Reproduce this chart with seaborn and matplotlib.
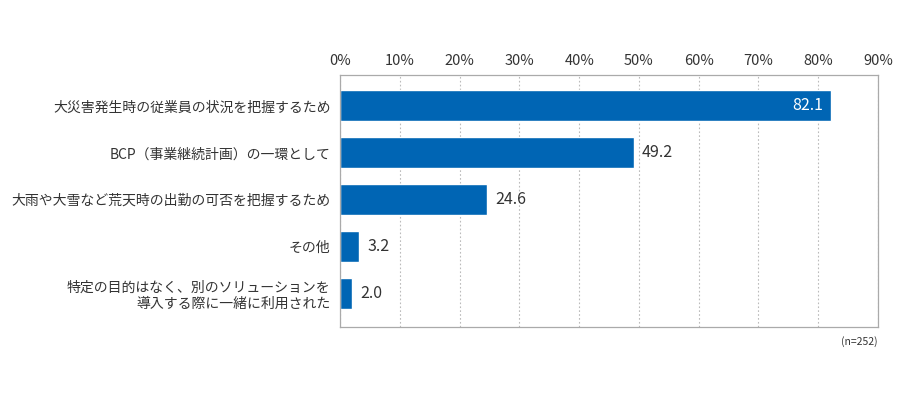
"""Horizontal bar chart: reasons for using the service (n=252)"""
import matplotlib
matplotlib.use('Agg')
import matplotlib.pyplot as plt
import seaborn as sns

categories = ['大災害発生時の従業員の状況を把握するため',
              'BCP（事業継続計画）の一環として',
              '大雨や大雪など荒天時の出勤の可否を把握するため',
              'その他',
              '特定の目的はなく、別のソリューションを\n導入する際に一緒に利用された']
values = [82.1, 49.2, 24.6, 3.2, 2.0]
x_ticks = list(range(0, 100, 10))
note = '(n=252)'

sns.set_style('white')
plt.rcParams['font.family'] = ['Noto Sans CJK JP', 'DejaVu Sans']

fig = plt.figure(figsize=(9, 4), dpi=100)
ax = fig.add_axes([0.378, 0.1825, 0.5975, 0.63])

sns.barplot(x=values, y=categories, orient='h', color='#0065B4', width=0.66,
            saturation=1, ax=ax)

ax.set_xlim(0, 90)
ax.set_ylim(4.72, -0.66)
ax.set_xticks(x_ticks)
ax.set_xticklabels([f'{t}%' for t in x_ticks])
ax.xaxis.tick_top()
ax.tick_params(axis='x', length=0, pad=5, labelsize=10.5, colors='#333333')
ax.tick_params(axis='y', length=0, pad=7, labelsize=10, colors='#333333')
ax.set_xlabel('')
ax.set_ylabel('')
ax.grid(axis='x', linestyle=(0, (1.5, 2)), color='#bbbbbb', linewidth=0.8)
ax.set_axisbelow(True)
for spine in ax.spines.values():
    spine.set_color('#aaaaaa')
    spine.set_linewidth(0.9)

#Value labels: inside the long bar, outside the rest
for bar, v in zip(ax.patches, values):
    y = bar.get_y() + bar.get_height() / 2
    if v > 70:
        ax.text(v - 1.3, y, f'{v:.1f}', ha='right', va='center', color='white', fontsize=11.5)
    else:
        ax.text(v + 1.3, y, f'{v:.1f}', ha='left', va='center', color='#333333', fontsize=11.5)

ax.text(1.0, -0.035, note, transform=ax.transAxes, ha='right', va='top',
        fontsize=7.5, color='#333333')

fig.savefig('out.png', dpi=100)
